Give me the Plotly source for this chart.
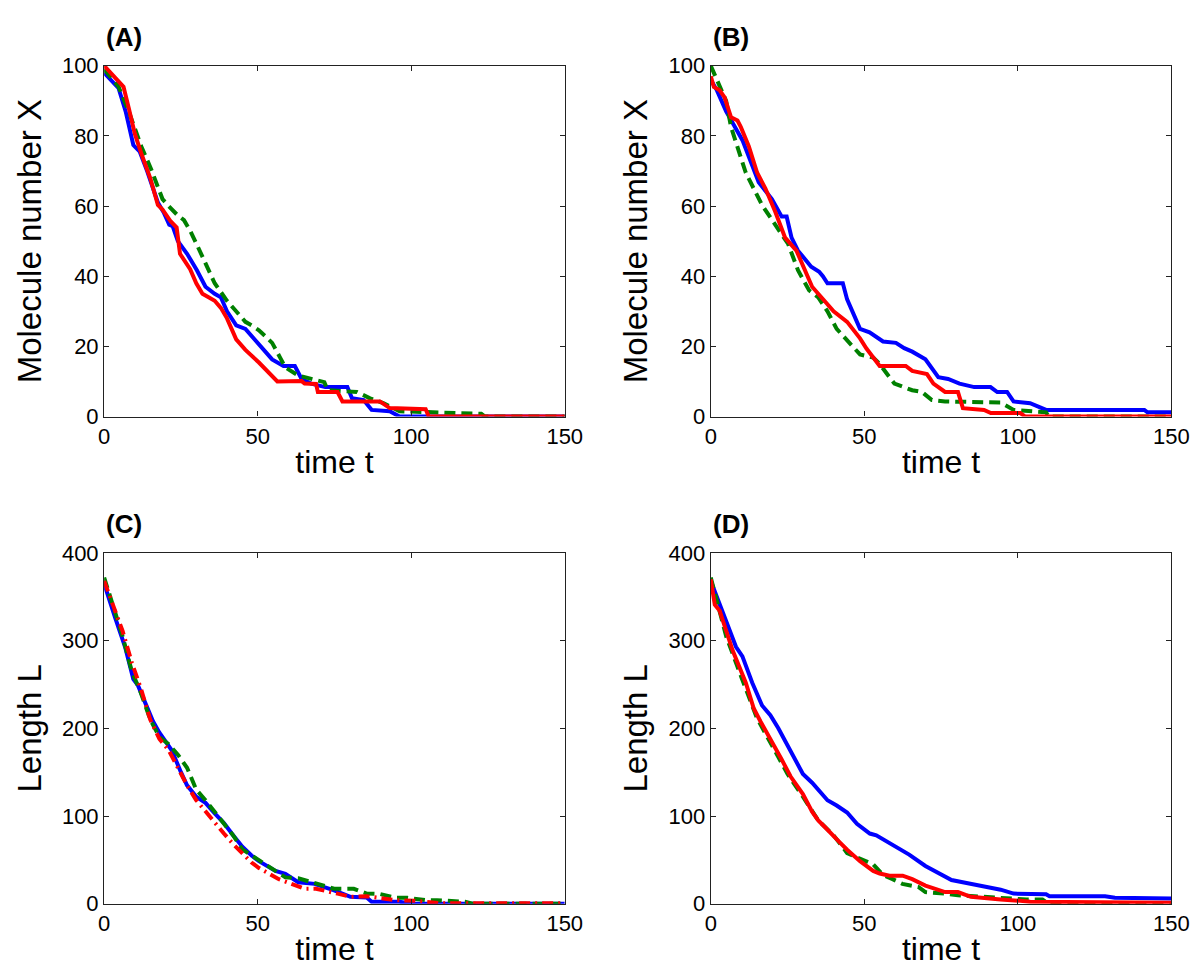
import plotly.graph_objects as go

# ---------------- data ----------------
A_blue_t = [0, 2, 4.7, 7, 9.5, 11.6, 14, 17.5, 19.5, 21.2, 22.3, 24, 27, 30.2, 33, 36, 38, 40, 43, 46, 48, 50.4, 54.7, 58.4, 62.1, 64.3, 67.4, 72, 79.2, 80.7, 84.5, 87.1, 93, 96.2, 150]
A_blue_x = [98, 96, 93.6, 87, 77.4, 75.5, 70, 61, 58, 54.7, 54.3, 50, 46.4, 41.7, 37, 35, 34, 30, 26, 25, 23, 21, 16.3, 14.4, 14.4, 10.7, 9.4, 8.4, 8.4, 5.2, 4.7, 1.9, 1.5, 0, 0]
A_red_t = [0, 3, 6.3, 8, 10, 12.1, 15, 17.5, 19, 21.7, 23.6, 24.7, 28, 30, 32, 34, 36, 38, 40, 43, 46, 50.4, 55.8, 56.4, 64.3, 65.3, 69, 69.6, 76, 77.6, 89.8, 93, 104.7, 105.7, 150]
A_red_x = [100, 97, 94, 88, 80.6, 75, 68, 60.3, 59, 55.6, 53.9, 46.4, 42, 38, 35, 34, 33, 31, 28, 22, 19, 15.4, 10.7, 10, 10.1, 9.4, 9.3, 7, 7, 4.3, 4.3, 2.4, 2.1, 0, 0]
A_green_t = [0, 4.7, 8, 12.1, 15.3, 19, 21, 23.8, 26, 28, 30.2, 33.4, 36, 40, 43, 46, 48, 50.4, 52.6, 54.7, 57.3, 59, 63.2, 66.9, 71.7, 72.8, 82.3, 86.6, 90.9, 96.2, 106.8, 114.3, 122.8, 124, 150]
A_green_x = [99, 94, 87, 77, 70.5, 62, 60, 57.5, 56, 53, 49, 42.7, 38, 33, 30, 27, 26, 24.6, 22.8, 21, 16.8, 14, 11.7, 11, 9.8, 7.5, 7, 5.2, 3.8, 1.5, 1.2, 1.2, 0.8, 0, 0]

B_blue_t = [0, 2, 5, 10.3, 15.6, 19.9, 23.1, 24.7, 26.3, 28.4, 32.7, 35.3, 36.5, 38, 43, 44.4, 48.6, 51.7, 56.1, 60.3, 63, 65.6, 69.9, 74.1, 77.3, 81, 85.8, 91.1, 93.3, 96.5, 98.6, 104, 109.2, 141.2, 142.2, 150]
B_blue_x = [96, 93, 87, 78.8, 66.8, 62, 57, 57, 51, 47.3, 42.7, 41.3, 40, 38, 38, 33.4, 25, 24, 21.4, 21, 19.5, 18.5, 16.3, 11.2, 10.7, 9.4, 8.4, 8.4, 7, 7, 4.3, 3.8, 1.9, 1.9, 1.2, 1.2]
B_red_t = [0, 1, 2.9, 4.5, 6.6, 8.7, 9.8, 12.4, 15.1, 17.8, 21, 24.2, 27.9, 30.5, 33, 36, 40, 44.4, 48.6, 50.7, 52.9, 55, 63.5, 65.6, 70.4, 72.5, 76.3, 80.5, 82.1, 89, 91.2, 100.8, 102.4, 150]
B_red_x = [97, 94, 93, 91, 85.3, 84.4, 82.5, 77, 69.5, 65, 58.4, 51, 47.3, 42.2, 37, 34, 30, 27, 22.3, 19.4, 16.8, 14.4, 14.4, 13, 12.1, 9.4, 7, 7, 2.4, 1.9, 1, 1, 0, 0]
B_green_t = [0, 5, 6.6, 11.4, 16.7, 21, 25.2, 28.4, 32, 35, 38, 41, 44.4, 48.6, 52.9, 55, 58.2, 59.8, 65.6, 68.8, 72, 76.3, 94.4, 98.6, 109.2, 110, 150]
B_green_x = [100, 90, 82.5, 69.5, 60.3, 54.7, 49.2, 41.7, 36, 34, 30, 25, 21.9, 17.7, 16.8, 15, 11.2, 9.4, 7.5, 7, 4.7, 4.3, 4, 1.9, 1.2, 0, 0]

C_blue_t = [0, 2, 3.6, 6.8, 9.5, 11, 13.2, 15.9, 18, 20, 22, 25, 27, 30, 33, 36, 39, 42, 45, 48, 50.4, 55.8, 59, 63.2, 68.5, 74.9, 80.2, 85.5, 87.1, 96.2, 100, 150]
C_blue_L = [365, 345, 326, 293, 256, 249, 230, 208, 195, 185, 175, 150, 135, 122, 115, 103, 92, 78, 65, 55, 48.5, 37.4, 34, 24.4, 22.6, 15.2, 7.8, 7, 2.2, 2.2, 0, 0]
C_red_t = [0, 3, 6, 9, 12, 15, 18, 21, 24, 27, 30, 33, 36, 39, 42, 45, 48, 50.4, 56.9, 65.3, 69, 76, 80.2, 85.5, 95.1, 101.5, 110, 150]
C_red_L = [368, 340, 311, 275, 245, 210, 188, 175, 155, 135, 118, 105, 93, 80, 68, 57, 47, 40.7, 28, 17, 17, 11.5, 7.8, 8.5, 4, 3.3, 0.5, 0.5]
C_green_t = [0, 3, 6, 9, 12, 15, 18, 21, 24, 27, 30, 33, 36, 39, 42, 45, 48, 50.4, 53.7, 59, 63.2, 69.6, 74.9, 81.3, 85.5, 89.8, 95.1, 98.8, 104.7, 108.4, 114.3, 117.5, 120, 150]
C_green_L = [372, 340, 305, 265, 240, 210, 190, 182, 170, 155, 130, 118, 105, 92, 78, 62, 55, 50, 43, 30, 29, 22.6, 17, 17, 11.5, 11, 6.7, 6.7, 4, 4, 3.3, 2.2, 0, 0]

D_blue_t = [0, 1.8, 5, 8.2, 10.3, 13.5, 16.7, 19.4, 22, 25, 28, 30, 33, 36, 38, 41, 44.4, 47.6, 51.8, 53.9, 58.2, 60.3, 64.6, 69.9, 74.1, 78.4, 83.7, 90.1, 94.4, 98.6, 109.2, 110.3, 128.4, 131.6, 141.2, 150]
D_blue_L = [368, 352, 322.6, 293, 282, 252, 226, 215, 200, 180, 160, 148, 138, 125, 118, 112, 104, 91, 80, 78, 68.9, 65, 56, 43, 35.6, 27, 23.3, 18.9, 16, 11.5, 10.7, 8.5, 8.5, 6.7, 6, 6]
D_red_t = [0, 1.3, 2.9, 7.1, 11.4, 14, 16.2, 17.8, 20, 23, 26, 28, 30, 33, 35, 37, 40, 42, 44.4, 48.6, 52.9, 55, 58.2, 62.5, 65.6, 69.9, 76.3, 80.5, 84.7, 89, 94.4, 100.8, 104, 150]
D_red_L = [370, 341, 334, 289, 252, 222.6, 207.8, 198, 185, 165, 145, 135, 125, 105, 95, 88, 78, 70, 61.5, 48.5, 37.4, 34.4, 32, 32, 28, 20.7, 13.3, 13.3, 7.8, 6, 4.8, 3.3, 2.2, 1]
D_green_t = [0, 5, 10, 15, 20, 25, 30, 35, 40, 44.4, 52.9, 56, 59.2, 62.4, 67.7, 69.9, 76.3, 80.5, 85.8, 89, 95.4, 98.6, 102.8, 108, 110, 150]
D_green_L = [372, 305, 258, 212, 180, 148, 122, 95, 78, 57.8, 44.8, 33, 28, 22.6, 18.9, 13.3, 11.5, 9.6, 8.5, 7.8, 6, 6, 4.8, 4.8, 0, 0]

panel_labels = ["(A)", "(B)", "(C)", "(D)"]
x_title = "time t"
y_titles = ["Molecule number X", "Molecule number X", "Length L", "Length L"]
x_ticks = [0, 50, 100, 150]
y_ticks_top = [0, 20, 40, 60, 80, 100]
y_ticks_bot = [0, 100, 200, 300, 400]

BLUE = "rgb(0,0,255)"
RED = "rgb(255,0,0)"
GREEN = "rgb(0,128,0)"

DASH = "11px,6px"
DASHDOT = "11px,5px,2px,5px"

W, H = 1200, 973
# pixel boxes of the four plot areas: (left, right, top, bottom)
boxes = [(92, 562, 47, 407), (711, 1181, 47, 407), (92, 562, 547, 907), (711, 1181, 547, 907)]

panels = [
    [(A_blue_t, A_blue_x, BLUE, "solid"), (A_green_t, A_green_x, GREEN, DASH), (A_red_t, A_red_x, RED, "solid")],
    [(B_blue_t, B_blue_x, BLUE, "solid"), (B_green_t, B_green_x, GREEN, DASH), (B_red_t, B_red_x, RED, "solid")],
    [(C_blue_t, C_blue_L, BLUE, "solid"), (C_green_t, C_green_L, GREEN, DASH), (C_red_t, C_red_L, RED, DASHDOT)],
    [(D_blue_t, D_blue_L, BLUE, "solid"), (D_green_t, D_green_L, GREEN, DASH), (D_red_t, D_red_L, RED, "solid")],
]

fig = go.Figure()
FONT = "Liberation Sans, Arial, Helvetica, sans-serif"

for i, (series, box) in enumerate(zip(panels, boxes)):
    n = i + 1
    xa = "x" if n == 1 else f"x{n}"
    ya = "y" if n == 1 else f"y{n}"
    for t, v, col, dash in series:
        fig.add_trace(go.Scatter(x=t, y=v, mode="lines", xaxis=xa, yaxis=ya,
                                 line=dict(color=col, width=4, dash=dash),
                                 showlegend=False, hoverinfo="skip"))
    l, r, tp, b = box
    axis_common = dict(showline=True, linecolor="#222", linewidth=1.3, mirror="ticks",
                       ticks="inside", ticklen=5, tickwidth=1.2, tickcolor="#222",
                       showgrid=False, zeroline=False,
                       tickfont=dict(family=FONT, size=22, color="black"))
    yt = y_ticks_top if i < 2 else y_ticks_bot
    fig.layout[f"xaxis{'' if n == 1 else n}"] = dict(
        domain=[l / W, r / W], anchor=ya, range=[0, 150], tickvals=x_ticks,
        title=dict(text=x_title, font=dict(family=FONT, size=32, color="black"), standoff=2),
        **axis_common)
    fig.layout[f"yaxis{'' if n == 1 else n}"] = dict(
        domain=[1 - b / H, 1 - tp / H], anchor=xa, range=[0, yt[-1]], tickvals=yt,
        title=dict(text=y_titles[i], font=dict(family=FONT, size=33, color="black"), standoff=10),
        **axis_common)
    fig.add_annotation(text=f"<b>{panel_labels[i]}</b>", xref="paper", yref="paper",
                       x=l / W, y=1 - (tp - 30) / H, xanchor="left", yanchor="middle",
                       showarrow=False, font=dict(family=FONT, size=26, color="black"))

fig.update_layout(width=W, height=H, margin=dict(l=0, r=0, t=0, b=0),
                  paper_bgcolor="white", plot_bgcolor="white")
fig.write_html("out.html")
